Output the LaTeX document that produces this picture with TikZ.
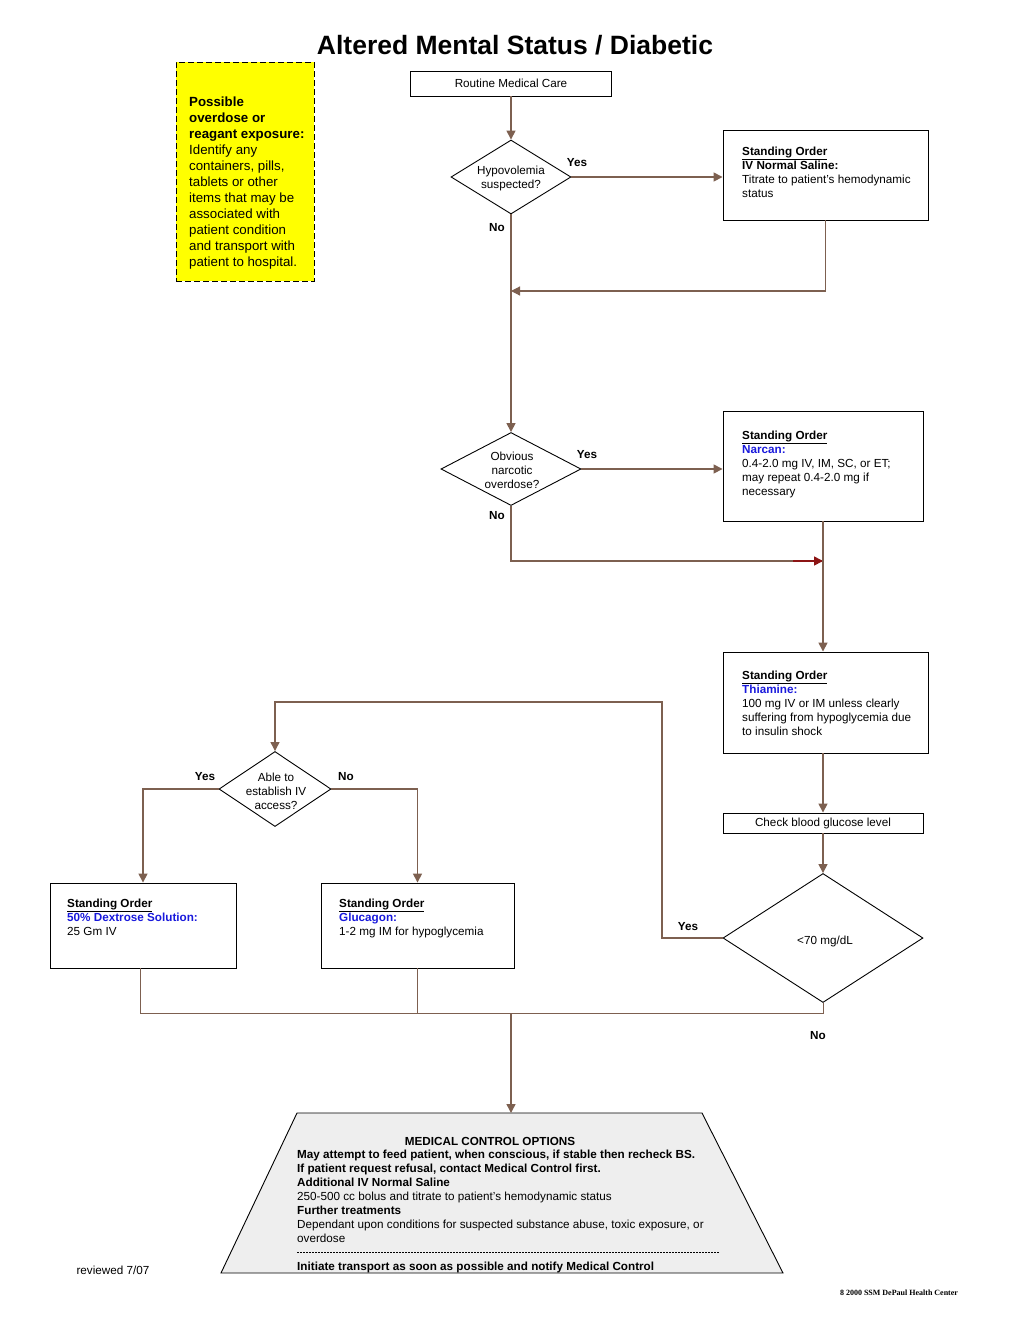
\documentclass[tikz,border=0pt]{standalone}
\usepackage{fontspec}
\setmainfont{Liberation Sans}
\newfontfamily\footserif{Liberation Serif}
\usetikzlibrary{shapes.geometric,arrows.meta}
\definecolor{ln}{RGB}{125,96,80}
\definecolor{dred}{RGB}{140,20,20}
\definecolor{oblue}{RGB}{25,25,220}
\definecolor{trapfill}{RGB}{238,238,238}
\definecolor{notey}{RGB}{255,255,0}
\begin{document}
\begin{tikzpicture}[x=1pt,y=-1pt,
 box/.style={draw=black,line width=0.9pt,rectangle,inner sep=0pt},
 dia/.style={draw=black,line width=0.9pt,diamond,inner sep=0pt},
 txt/.style={inner sep=0pt,anchor=north west,align=left,font=\fontsize{11.7}{14}\selectfont},
 ctxt/.style={inner sep=0pt,align=center,font=\fontsize{11.7}{14}\selectfont},
 arr/.style={draw=ln,line width=1.5pt,-{Triangle[length=9pt,width=9pt]}},
 thinln/.style={draw=ln,line width=1pt},
 lab/.style={font=\fontsize{11.7}{13}\selectfont\bfseries,inner sep=0pt}
]
\useasboundingbox (0,0) rectangle (1024,1325);

% title
\node[inner sep=0pt,font=\fontsize{26.5}{30}\selectfont\bfseries] (title) at (515,45) {Altered Mental Status / Diabetic};

% yellow note
\node[draw=black,fill=notey,dash pattern=on 6pt off 3pt,line width=1pt,rectangle,inner sep=0pt,minimum width=138pt,minimum height=219pt] (note) at (245,171.5) {};
\node[inner sep=0pt,anchor=north west,align=left,font=\fontsize{13.3}{16}\selectfont] (notet) at (189,96.5) {\textbf{Possible}\\\textbf{overdose or}\\\textbf{reagant exposure:}\\Identify any\\containers, pills,\\tablets or other\\items that may be\\associated with\\patient condition\\and transport with\\patient to hospital.};

% top box
\node[box,minimum width=201pt,minimum height=25pt,font=\fontsize{11.7}{13}\selectfont] (routine) at (511,83.5) {Routine Medical Care};

% diamond 1
\node[dia,minimum width=120pt,minimum height=74pt] (d1) at (511,177) {};
\node[ctxt] (d1t) at (511,178.5) {Hypovolemia\\suspected?};
\node[box,minimum width=205pt,minimum height=90pt] (saline) at (825.5,175) {};
\node[txt] (salinet) at (742,147) {\underline{\textbf{Standing Order}}\\\textbf{IV Normal Saline:}\\Titrate to patient's hemodynamic\\status};
\node[lab] (y1) at (577,163) {Yes};
\node[lab] (n1) at (497,228) {No};
\coordinate (m1) at (511,291);

% diamond 2
\node[dia,minimum width=140pt,minimum height=73pt] (d2) at (511,469) {};
\node[ctxt] (d2t) at (512,470) {Obvious\\narcotic\\overdose?};
\node[box,minimum width=200pt,minimum height=110pt] (narcan) at (823,466) {};
\node[txt] (narcant) at (742,431) {\underline{\textbf{Standing Order}}\\\textcolor{oblue}{\textbf{Narcan:}}\\0.4-2.0 mg IV, IM, SC, or ET;\\may repeat 0.4-2.0 mg if\\necessary};
\node[lab] (y2) at (587,455) {Yes};
\node[lab] (n2) at (497,516) {No};
\coordinate (m2) at (823,561);
\coordinate (m2a) at (793,561);

% thiamine
\node[box,minimum width=205pt,minimum height=101pt] (thia) at (825.5,702.5) {};
\node[txt] (thiat) at (742,671) {\underline{\textbf{Standing Order}}\\\textcolor{oblue}{\textbf{Thiamine:}}\\100 mg IV or IM unless clearly\\suffering from hypoglycemia due\\to insulin shock};

% check glucose
\node[box,minimum width=200pt,minimum height=20pt,font=\fontsize{11.7}{13}\selectfont] (check) at (823,823) {Check blood glucose level};

% diamond 3
\node[dia,minimum width=200pt,minimum height=129pt] (d3) at (823,938) {};
\node[ctxt] (d3t) at (825,941) {<70 mg/dL};
\node[lab] (y3) at (688,927) {Yes};
\node[lab] (n3) at (818,1036) {No};
\coordinate (c1) at (662,702);

% diamond 4
\node[dia,minimum width=112pt,minimum height=75pt] (d4) at (275,789) {};
\node[ctxt] (d4t) at (276,791) {Able to\\establish IV\\access?};
\node[lab] (y4) at (205,777) {Yes};
\node[lab] (n4) at (346,777) {No};

% dextrose / glucagon
\node[box,minimum width=186pt,minimum height=85pt] (dex) at (143,925.5) {};
\node[txt] (dext) at (67,899) {\underline{\textbf{Standing Order}}\\\textcolor{oblue}{\textbf{50\% Dextrose Solution:}}\\25 Gm IV};
\node[box,minimum width=193pt,minimum height=85pt] (glu) at (417.5,925.5) {};
\node[txt] (glut) at (339,899) {\underline{\textbf{Standing Order}}\\\textcolor{oblue}{\textbf{Glucagon:}}\\1-2 mg IM for hypoglycemia};

\coordinate (j1) at (140,1013);
\coordinate (j2) at (417.5,1013);
\coordinate (j3) at (511,1013);
\coordinate (j4) at (823,1013);
\coordinate (tt) at (511,1113);

% trapezoid
\draw[fill=trapfill,line width=0.9pt] (297,1113) -- (702,1113) -- (783,1273) -- (221,1273) -- cycle;
\node[inner sep=0pt,font=\fontsize{11.7}{13}\selectfont\bfseries] (mco) at (490,1141) {MEDICAL CONTROL OPTIONS};
\node[txt] (mcot) at (297,1150) {\textbf{May attempt to feed patient, when conscious, if stable then recheck BS.}\\\textbf{If patient request refusal, contact Medical Control first.}\\\textbf{Additional IV Normal Saline}\\250-500 cc bolus and titrate to patient's hemodynamic status\\\textbf{Further treatments}\\Dependant upon conditions for suspected substance abuse, toxic exposure, or\\overdose};
\draw[dash pattern=on 2pt off 1pt,line width=0.5pt] (297,1252) -- (719,1252);
\node[txt] (mcoi) at (297,1262) {\textbf{Initiate transport as soon as possible and notify Medical Control}};

% footer
\node[inner sep=0pt,font=\fontsize{11.7}{13}\selectfont] (rev) at (113,1270) {reviewed 7/07};
\node[inner sep=0pt,font=\footserif\fontsize{8}{10}\selectfont\bfseries] (copy) at (899,1293) {8 2000 SSM DePaul Health Center};

% connectors
\draw[arr] (routine.south) -- (d1.north);
\draw[arr] (d1.east) -- (d1.east -| saline.west);
\draw[arr,line width=1.2pt] (saline.south) |- (m1);
\draw[arr] (d1.south) -- (d2.north);
\draw[arr] (d2.east) -- (d2.east -| narcan.west);
\draw[thinln,line width=1.3pt] (d2.south) |- (m2);
\draw[dred,line width=1.6pt,-{Triangle[length=9pt,width=9pt]}] (m2a) -- (m2);
\draw[arr] (narcan.south) -- (narcan.south |- thia.north);
\draw[arr] (check.north |- thia.south) -- (check.north);
\draw[arr] (check.south) -- (d3.north);
\draw[arr,line width=1.2pt] (d3.west) -| (c1) -| (d4.north);
\draw[arr] (d4.west) -| (dex.north);
\draw[arr] (d4.east) -| (glu.north);
\draw[thinln] (dex.south -| j1) -- (j1) -- (j4) -- (d3.south);
\draw[thinln] (glu.south) -- (j2);
\draw[arr] (j3) -- (tt);
\end{tikzpicture}
\end{document}
